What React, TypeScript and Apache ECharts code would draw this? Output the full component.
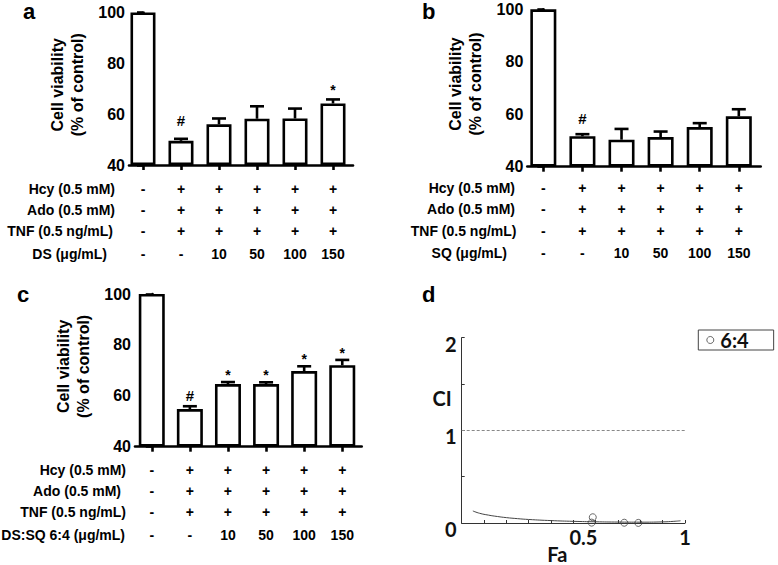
import React, { useEffect, useRef } from "react";
import * as echarts from "echarts";

// ---------- data ----------
const categoryIndex = [0, 1, 2, 3, 4, 5];
const rowLabels = ["Hcy (0.5 mM)", "Ado (0.5 mM)", "TNF (0.5 ng/mL)"];
const hcySigns = ["-", "+", "+", "+", "+", "+"];
const adoSigns = ["-", "+", "+", "+", "+", "+"];
const tnfSigns = ["-", "+", "+", "+", "+", "+"];
const doseTicks = ["-", "-", "10", "50", "100", "150"];
const doseLabelA = "DS (\u03bcg/mL)";
const doseLabelB = "SQ (\u03bcg/mL)";
const doseLabelC = "DS:SQ 6:4 (\u03bcg/mL)";
const yTicks = [40, 60, 80, 100];

const viabilityA = [100, 49.5, 56.0, 58.2, 58.3, 64.2];
const errorA = [0, 0.8, 2.3, 4.9, 3.9, 1.6];
const marksA = ["", "#", "", "", "", "*"];

const viabilityB = [100, 51.6, 50.3, 51.3, 55.1, 59.2];
const errorB = [0, 0.8, 4.1, 2.1, 1.5, 2.7];
const marksB = ["", "#", "", "", "", ""];

const viabilityC = [100, 54.8, 64.6, 64.6, 69.7, 72.0];
const errorC = [0, 1.1, 0.8, 0.7, 1.9, 2.1];
const marksC = ["", "#", "*", "*", "*", "*"];

const faCurve = [0.05, 0.08, 0.12, 0.16, 0.2, 0.25, 0.3, 0.4, 0.5, 0.6, 0.7, 0.8, 0.9, 0.95, 0.98];
const ciCurve = [0.13, 0.105, 0.085, 0.07, 0.058, 0.047, 0.038, 0.026, 0.018, 0.013, 0.01, 0.009, 0.012, 0.018, 0.024];
const faPoints = [0.587, 0.582, 0.728, 0.791];
const ciPoints = [0.062, 0.004, 0.003, 0.001];
const comboName = "6:4";

// ---------- layout / style ----------
const FONT = '"Liberation Sans", Arial, Helvetica, sans-serif';
const FONT_D = 'Lato, "Open Sans", "Liberation Sans", sans-serif';
const LW = 2.6;

const barPanels = [
  {
    letter: "a", letterPos: [23, 11],
    grid: { left: 129, top: 12.5, width: 224, height: 152.5 },
    min: -0.368, max: 5.526, barWidth: 25, margin: 13,
    values: viabilityA, errors: errorA, marks: marksA, doseLabel: doseLabelA,
    rowRight: [115, 115, 113, 107],
    hashOffset: 18, starOffset: 9,
  },
  {
    letter: "b", letterPos: [422, 11],
    grid: { left: 527.3, top: 9.3, width: 233.4, height: 157.4 },
    min: -0.41, max: 5.56, barWidth: 26, margin: 11,
    values: viabilityB, errors: errorB, marks: marksB, doseLabel: doseLabelB,
    rowRight: [515, 515, 516.5, 507],
    hashOffset: 16, starOffset: 8,
  },
  {
    letter: "c", letterPos: [17, 294],
    grid: { left: 135, top: 294, width: 226.7, height: 152.7 },
    min: -0.44, max: 5.51, barWidth: 26, margin: 12.5,
    values: viabilityC, errors: errorC, marks: marksC, doseLabel: doseLabelC,
    rowRight: [126, 121, 126, 125],
    hashOffset: 11, starOffset: 7,
  },
];
const gridD = { left: 461.7, top: 337.7, width: 223.3, height: 185.3 };
const lineOffsets = [10.5, 31.5, 53, 75.5];

function letterText(text: string, x: number, y: number) {
  return {
    type: "text",
    x,
    y,
    style: {
      text,
      fontSize: 22,
      fontWeight: "bold",
      fontFamily: FONT,
      fill: "#000",
      align: "left",
      verticalAlign: "middle",
      textAlign: "left",
      textVerticalAlign: "middle",
    },
  };
}

function buildOption() {
  const grids: any[] = [];
  const xAxes: any[] = [];
  const yAxes: any[] = [];
  const series: any[] = [];
  const graphics: any[] = [];

  barPanels.forEach((p, k) => {
    grids.push({ ...p.grid, containLabel: false, outerBoundsMode: "none" });
    xAxes.push({
      gridIndex: k,
      type: "value",
      min: p.min,
      max: p.max,
      splitLine: { show: false },
      axisLine: { show: true, lineStyle: { color: "#000", width: LW } },
      axisTick: { show: true, customValues: categoryIndex, length: 5, lineStyle: { color: "#000", width: LW } },
      axisLabel: {
        show: true,
        customValues: categoryIndex,
        margin: p.margin,
        formatter: (v: number) => {
          const i = Math.round(v);
          return `{r|${hcySigns[i]}}\n{r|${adoSigns[i]}}\n{q|${tnfSigns[i]}}\n{d|${doseTicks[i]}}`;
        },
        rich: {
          r: { fontSize: 14, fontWeight: "bold", fontFamily: FONT, color: "#000", lineHeight: 21 },
          q: { fontSize: 14, fontWeight: "bold", fontFamily: FONT, color: "#000", lineHeight: 22 },
          d: { fontSize: 14, fontWeight: "bold", fontFamily: FONT, color: "#000", lineHeight: 23 },
        },
      },
    });
    yAxes.push({
      gridIndex: k,
      type: "value",
      min: yTicks[0],
      max: yTicks[yTicks.length - 1],
      interval: yTicks[1] - yTicks[0],
      startValue: yTicks[0],
      splitLine: { show: false },
      axisLine: { show: true, lineStyle: { color: "#000", width: LW } },
      axisTick: { show: true, length: 6, lineStyle: { color: "#000", width: LW } },
      axisLabel: { fontSize: 16, fontWeight: "bold", fontFamily: FONT, color: "#000", margin: 4 },
      name: "Cell viability\n(% of control)",
      nameLocation: "middle",
      nameRotate: 90,
      nameGap: 42,
      nameMoveOverlap: false,
      nameTextStyle: { fontSize: 16, fontWeight: "bold", fontFamily: FONT, color: "#000", lineHeight: 20, padding: [0, 0, 0, 8] },
    });
    series.push({
      type: "bar",
      name: "bars" + k,
      xAxisIndex: k,
      yAxisIndex: k,
      barWidth: p.barWidth,
      data: p.values.map((v, i) => [categoryIndex[i], v]),
      itemStyle: { color: "#fff", borderColor: "#000", borderWidth: LW },
      z: 2,
    });
    const marks = p.marks;
    const hashOffset = p.hashOffset;
    const starOffset = p.starOffset;
    series.push({
      type: "custom",
      name: "err" + k,
      xAxisIndex: k,
      yAxisIndex: k,
      z: 3,
      encode: { x: 0, y: 1 },
      data: p.values.map((v, i) => [categoryIndex[i], v, p.errors[i]]),
      renderItem: (params: any, api: any) => {
        const x = api.value(0);
        const v = api.value(1);
        const e = api.value(2);
        const base = api.coord([x, v]);
        const top = api.coord([x, v + e]);
        const children: any[] = [];
        if (e > 0) {
          children.push({
            type: "line",
            shape: { x1: base[0], y1: base[1], x2: top[0], y2: top[1] },
            style: { stroke: "#000", lineWidth: LW },
          });
          children.push({
            type: "line",
            shape: { x1: top[0] - 7, y1: top[1], x2: top[0] + 7, y2: top[1] },
            style: { stroke: "#000", lineWidth: LW },
          });
        }
        const m = marks[params.dataIndex];
        if (m) {
          children.push({
            type: "text",
            x: top[0],
            y: top[1] - (m === "#" ? hashOffset : starOffset),
            style: {
              text: m,
              fontSize: m === "#" ? 15 : 14,
              fontWeight: "bold",
              fontFamily: FONT,
              fill: "#000",
              align: "center",
              verticalAlign: "middle",
              textAlign: "center",
              textVerticalAlign: "middle",
            },
          });
        }
        return { type: "group", children };
      },
    });

    // row labels (left-hand treatment names)
    const axisY = p.grid.top + p.grid.height;
    const labels = [...rowLabels, p.doseLabel];
    labels.forEach((t, r) => {
      graphics.push({
        type: "text",
        x: p.rowRight[r],
        y: axisY + p.margin + lineOffsets[r],
        style: {
          text: t,
          fontSize: 14,
          fontWeight: "bold",
          fontFamily: FONT,
          fill: "#000",
          align: "right",
          verticalAlign: "middle",
          textAlign: "right",
          textVerticalAlign: "middle",
        },
      });
    });
    graphics.push(letterText(p.letter, p.letterPos[0], p.letterPos[1]));
  });

  // ---------- panel d ----------
  grids.push({ ...gridD, containLabel: false, outerBoundsMode: "none" });
  xAxes.push({
    gridIndex: 3,
    type: "value",
    min: 0,
    max: 1,
    interval: 0.1,
    splitLine: { show: false },
    axisLine: { show: true, lineStyle: { color: "#333", width: 1 } },
    axisTick: { show: true, inside: true, length: 3, lineStyle: { color: "#333", width: 1 } },
    axisLabel: {
      margin: 4,
      fontSize: 20,
      fontWeight: "bold",
      fontFamily: FONT_D,
      color: "#111",
      formatter: (v: number) => (Math.abs(v - 0.5) < 1e-6 ? "{s|0.5}" : Math.abs(v - 1) < 1e-6 ? "1" : ""),
      rich: { s: { fontSize: 20, fontWeight: "bold", fontFamily: FONT_D, color: "#111", padding: [0, 0, 0, 20] } },
    },
    name: "Fa",
    nameLocation: "middle",
    nameGap: 21,
    nameMoveOverlap: false,
    nameTextStyle: { fontSize: 20, fontWeight: "bold", fontFamily: FONT_D, color: "#111", padding: [0, 32, 0, 0] },
  });
  yAxes.push({
    gridIndex: 3,
    type: "value",
    min: 0,
    max: 2,
    interval: 0.5,
    splitLine: { show: false },
    axisLine: { show: true, lineStyle: { color: "#333", width: 1 } },
    axisTick: { show: true, inside: true, length: 3, lineStyle: { color: "#333", width: 1 } },
    axisLabel: {
      margin: 5,
      fontSize: 20,
      fontWeight: "bold",
      fontFamily: FONT_D,
      color: "#111",
      verticalAlign: "top",
      lineHeight: 12,
      formatter: (v: number) => (Math.abs(v - Math.round(v)) < 1e-6 ? String(Math.round(v)) : ""),
    },
    name: "CI",
    nameLocation: "middle",
    nameRotate: 0,
    nameGap: 10,
    nameMoveOverlap: false,
    nameTextStyle: {
      fontSize: 20,
      fontWeight: "bold",
      fontFamily: FONT_D,
      color: "#111",
      align: "right",
      verticalAlign: "bottom",
      lineHeight: 64,
    },
  });
  series.push({
    type: "line",
    name: "curve",
    xAxisIndex: 3,
    yAxisIndex: 3,
    smooth: true,
    showSymbol: false,
    data: faCurve.map((f, i) => [f, ciCurve[i]]),
    lineStyle: { color: "#444", width: 1 },
    markLine: {
      silent: true,
      symbol: ["none", "none"],
      label: { show: false },
      lineStyle: { type: [3, 2], color: "#888", width: 1 },
      data: [{ yAxis: 1 }],
    },
    z: 2,
  });
  series.push({
    type: "scatter",
    name: comboName,
    xAxisIndex: 3,
    yAxisIndex: 3,
    symbol: "circle",
    symbolSize: 7,
    data: faPoints.map((f, i) => [f, ciPoints[i]]),
    itemStyle: { color: "rgba(0,0,0,0)", borderColor: "#444", borderWidth: 1 },
    z: 3,
  });
  graphics.push(letterText("d", 422, 294));

  return {
    animation: false,
    backgroundColor: "#fff",
    grid: grids,
    xAxis: xAxes,
    yAxis: yAxes,
    series,
    graphic: graphics,
    legend: {
      data: [comboName],
      left: 698.3,
      top: 330,
      icon: "circle",
      itemWidth: 10,
      itemHeight: 7,
      itemStyle: { color: "rgba(0,0,0,0)", borderColor: "#444", borderWidth: 1 },
      borderColor: "#444",
      borderWidth: 1,
      borderRadius: 0,
      padding: [0, 25, 0, 8],
      textStyle: { fontSize: 20, fontWeight: "bold", fontFamily: FONT_D, color: "#111" },
    },
  };
}

export default function App() {
  const ref = useRef<HTMLDivElement>(null);
  useEffect(() => {
    if (!ref.current) return;
    const chart = echarts.init(ref.current, null, { renderer: "svg" });
    chart.setOption(buildOption() as any);
    return () => chart.dispose();
  }, []);
  return (
    <div
      ref={ref}
      style={{ position: "absolute", left: 0, top: 0, width: 778, height: 565, background: "#fff" }}
    />
  );
}
